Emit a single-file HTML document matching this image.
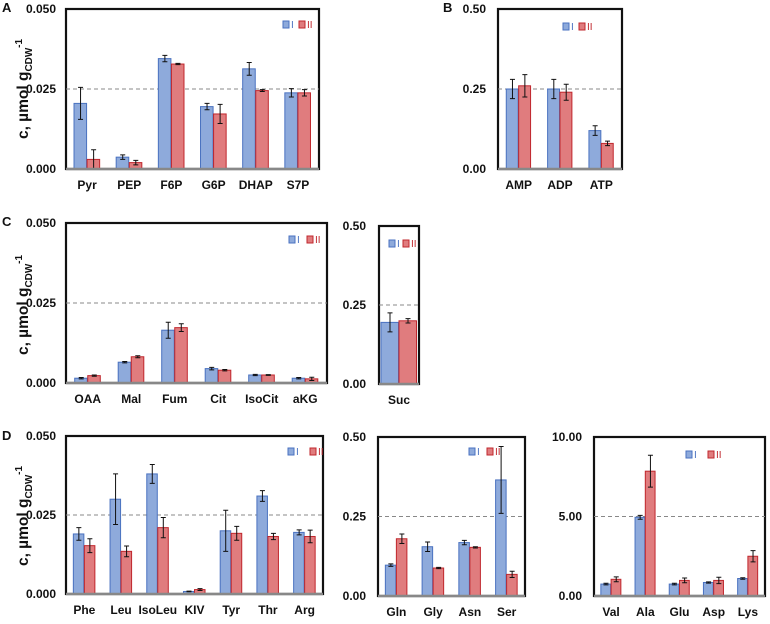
<!DOCTYPE html>
<html><head><meta charset="utf-8"><style>
body{margin:0;background:#fff;}
svg{display:block;font-family:"Liberation Sans",Arial,sans-serif;}
</style></head><body>
<svg id="chart" width="770" height="624" viewBox="0 0 770 624"></svg>
<script>
// Panel A
const catsA=["Pyr","PEP","F6P","G6P","DHAP","S7P"];
const valsA1=[0.0205,0.0037,0.0345,0.0195,0.0313,0.0238];
const errA1=[0.005,0.0007,0.001,0.001,0.002,0.0013];
const valsA2=[0.003,0.002,0.0328,0.0172,0.0245,0.0238];
const errA2=[0.003,0.0007,0.0002,0.003,0.0003,0.001];
const ticksA=["0.000","0.025","0.050"];
// Panel B
const catsB=["AMP","ADP","ATP"];
const valsB1=[0.25,0.25,0.12];
const errB1=[0.03,0.03,0.015];
const valsB2=[0.26,0.24,0.08];
const errB2=[0.035,0.025,0.007];
const ticksB=["0.00","0.25","0.50"];
// Panel C
const catsC=["OAA","Mal","Fum","Cit","IsoCit","aKG"];
const valsC1=[0.0015,0.0065,0.0165,0.0045,0.0025,0.0015];
const errC1=[0.0002,0.0002,0.0025,0.0004,0.0002,0.0002];
const valsC2=[0.0023,0.0082,0.0173,0.004,0.0025,0.0013];
const errC2=[0.0002,0.0003,0.0012,0.0002,0.0001,0.0005];
const ticksC=["0.000","0.025","0.050"];
// Panel C Suc
const catsS=["Suc"];
const valsS1=[0.195];
const errS1=[0.03];
const valsS2=[0.2];
const errS2=[0.007];
const ticksS=["0.00","0.25","0.50"];
// Panel D1
const catsD1=["Phe","Leu","IsoLeu","KIV","Tyr","Thr","Arg"];
const valsD11=[0.019,0.030,0.038,0.0008,0.020,0.031,0.0195];
const errD11=[0.002,0.008,0.003,0.0001,0.0065,0.0017,0.0008];
const valsD12=[0.0153,0.0135,0.021,0.0014,0.0192,0.0182,0.0182];
const errD12=[0.0022,0.0017,0.0032,0.0003,0.0022,0.001,0.002];
const ticksD1=["0.000","0.025","0.050"];
// Panel D2
const catsD2=["Gln","Gly","Asn","Ser"];
const valsD21=[0.097,0.155,0.168,0.365];
const errD21=[0.004,0.015,0.007,0.105];
const valsD22=[0.18,0.088,0.153,0.068];
const errD22=[0.015,0.002,0.002,0.01];
const ticksD2=["0.00","0.25","0.50"];
// Panel D3
const catsD3=["Val","Ala","Glu","Asp","Lys"];
const valsD31=[0.75,4.95,0.75,0.85,1.1];
const errD31=[0.05,0.12,0.05,0.04,0.05];
const valsD32=[1.05,7.85,0.98,0.98,2.5];
const errD32=[0.15,1.0,0.15,0.2,0.35];
const ticksD3=["0.00","5.00","10.00"];

const svg=document.getElementById('chart');
const NS="http://www.w3.org/2000/svg";
function mk(tag,attrs,parent){const e=document.createElementNS(NS,tag);for(const k in attrs)e.setAttribute(k,attrs[k]);(parent||svg).appendChild(e);return e;}
function txt(x,y,s,size,anchor,parent){const t=mk('text',{x:x,y:y,'font-size':size,'font-weight':'bold','text-anchor':anchor||'middle',fill:'#111'},parent);t.textContent=s;return t;}

function panel(id,x0,x1,y0,y1,ymax,cats,v1,e1,v2,e2,ticks,lx,ly,lgap,tickX,groupFrac){
  const g=mk('g',{});
  
  
  const ys=v=>y1-(v/ymax)*(y1-y0);
  mk('rect',{x:x0,y:y0,width:x1-x0,height:y1-y0,fill:'#fff',stroke:'#111','stroke-width':2.2},g);
  const dl=mk('line',{x1:x0,x2:x1,y1:ys(ymax/2),y2:ys(ymax/2),stroke:'#888','stroke-width':1,'stroke-dasharray':'4,3'},g);
  
  
  ticks.forEach((t,i)=>{const tl=txt(tickX,ys(ymax*i/(ticks.length-1))+4,t,12,'end',g);
    
    });
  const cw=(x1-x0)/cats.length;
  const bw=cw*groupFrac/2;
  cats.forEach((c,i)=>{
    const cx=x0+cw*(i+0.5);
    [[v1,e1,'#8eaadb','#4a72c0','bar-series-1'],[v2,e2,'#e07c7e','#c0272d','bar-series-2']].forEach((s,j)=>{
      const bx=cx-bw+j*bw;
      const v=s[0][i];
      const r=mk('rect',{x:bx,y:ys(v),width:bw-0.5,height:y1-ys(v),fill:s[2],stroke:s[3],'stroke-width':1},g);
      
      
      const ex=bx+bw/2,e=s[1][i];
      const eb=mk('path',{d:`M${ex},${ys(v+e)}V${ys(Math.max(0,v-e))}M${ex-2.5},${ys(v+e)}h5M${ex-2.5},${ys(Math.max(0,v-e))}h5`,stroke:'#111','stroke-width':1,fill:'none'},g);
      
      
    });
    const xl=txt(cx,y1+20,c,12,'middle',g);
    
    
  });
  mk('line',{x1:x0,x2:x1,y1:y1,y2:y1,stroke:'#888','stroke-width':2.5},g);
  const lg=mk('g',{},g);
  
  
  mk('rect',{x:lx,y:ly-4,width:6,height:7,fill:'#8eaadb',stroke:'#4a72c0'},lg);
  const t1=mk('text',{x:lx+8,y:ly+3,'font-size':10,fill:'#4a72c0'},lg);t1.textContent='I';
  mk('rect',{x:lx+lgap,y:ly-4,width:6,height:7,fill:'#e07c7e',stroke:'#c0272d'},lg);
  const t2=mk('text',{x:lx+lgap+8,y:ly+3,'font-size':10,fill:'#c0272d'},lg);t2.textContent='II';
}

panel('panel-a',66,319,9,169,0.05,catsA,valsA1,errA1,valsA2,errA2,ticksA,283,25,16,56,0.62);
panel('panel-b',498,622,9,169,0.5,catsB,valsB1,errB1,valsB2,errB2,ticksB,563,27,16,486,0.6);
panel('panel-c',66,327,223,383,0.05,catsC,valsC1,errC1,valsC2,errC2,ticksC,289,240,18,56,0.6);
panel('panel-c-suc',379,419,226,384,0.5,catsS,valsS1,errS1,valsS2,errS2,ticksS,389,244,14,366,0.9);
panel('panel-d1',66,323,436,594,0.05,catsD1,valsD11,errD11,valsD12,errD12,ticksD1,288,452,22,56,0.6);
panel('panel-d2',378,525,437,596,0.5,catsD2,valsD21,errD21,valsD22,errD22,ticksD2,469,452,18,366,0.6);
panel('panel-d3',594,765,437,596,10,catsD3,valsD31,errD31,valsD32,errD32,ticksD3,686,455,22,582,0.6);

[['A',2,12],['B',443,12],['C',2,226],['D',2,440]].forEach(p=>{
  const t=txt(p[1],p[2],p[0],13,'start');
  
  
});
[[89],[305],[516]].forEach(p=>{
  const t=mk('text',{transform:`translate(28,${p[0]}) rotate(-90)`,'font-size':15.5,'font-weight':'bold','text-anchor':'middle',fill:'#111'});
  t.innerHTML='c, µmol g<tspan font-size="10" dy="4">CDW</tspan><tspan font-size="10" dy="-10">-1</tspan>';
  
  
});
</script>
</body></html>
